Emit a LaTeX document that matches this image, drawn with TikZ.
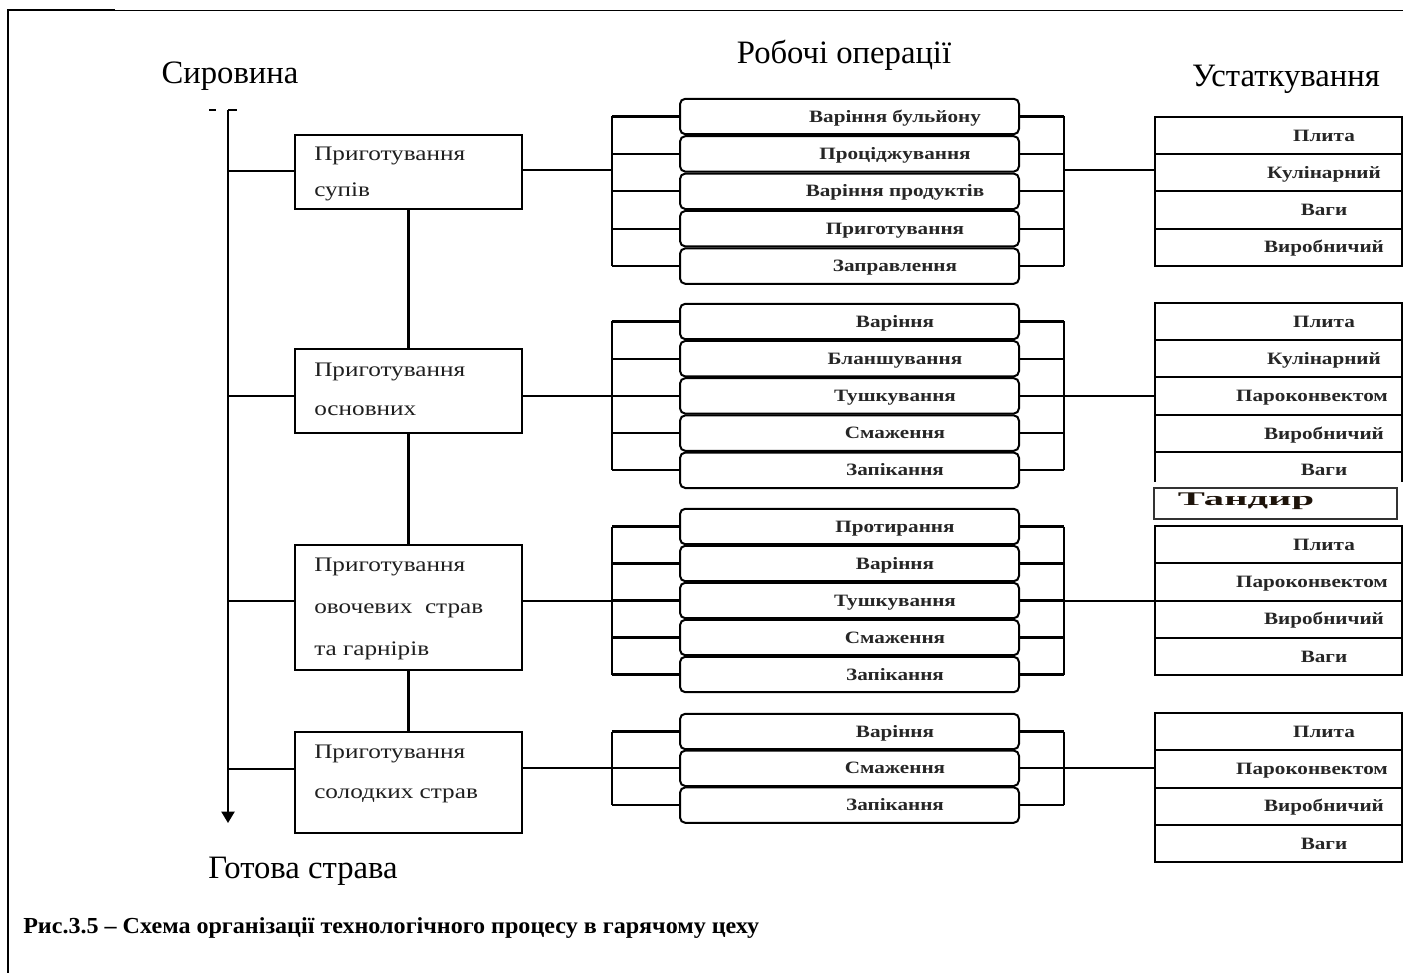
\documentclass[tikz,border=0pt]{standalone}
\usepackage{fontspec}
\setmainfont{Liberation Serif}
\newfontfamily\sfnt[FakeStretch=1.22]{Liberation Serif}
\newfontfamily\wfnt[FakeStretch=2.1]{Liberation Serif}
\newfontfamily\cfnt[FakeStretch=1.05]{Liberation Serif}
\usetikzlibrary{arrows.meta}
\begin{document}
\begin{tikzpicture}[x=0.75pt,y=-0.75pt,
  ln/.style={line width=1.6pt},
  mainbox/.style={draw, line width=1.6pt, minimum width=170.25pt, inner sep=0pt, outer sep=0pt},
  opbox/.style={draw, line width=1.5pt, rounded corners=4pt, minimum width=254.25pt, minimum height=26.6pt, inner sep=0pt, outer sep=0pt},
  eqbox/.style={draw, line width=1.5pt, minimum width=185.25pt, minimum height=27.9pt, inner sep=0pt, outer sep=0pt},
  optext/.style={font=\sfnt\bfseries\fontsize{13}{15}\selectfont, text=black!85, inner sep=0pt, text height=0.95em, text depth=0.1em},
  maintext/.style={font=\sfnt\fontsize{15.5}{18}\selectfont, text=black!88, anchor=west, inner sep=0pt, text height=0.95em, text depth=0.1em},
  head/.style={font=\fontsize{24.5}{28}\selectfont, inner sep=0pt, text height=0.7em, text depth=0.2em}
]
\useasboundingbox (0,0) rectangle (1403,973);
% frame
\draw[line width=1.3pt] (8,973) -- (8,10) -- (115,10);
\draw[line width=0.7pt] (115,10) -- (1403,10);

% headings
\node[head] (hraw) at (230,80) {Сировина};
\node[head] (hops) at (844,60) {Робочі операції};
\node[head] (heq) at (1286,83) {Устаткування};
\node[head] (hout) at (303,875) {Готова страва};
\node[font=\cfnt\bfseries\fontsize{17.2}{19}\selectfont, anchor=west, inner sep=0pt] (cap) at (23,928) {Рис.3.5 – Схема організації технологічного процесу в гарячому цеху};

% main axis
\coordinate (atop) at (228,110);
\coordinate (abot) at (228,823);
\draw[ln, -{Triangle[width=9.75pt,length=8.5pt]}] (atop) -- (abot);
\draw[line width=1.3pt] (228,110) -- (237,110);
\draw[line width=1.3pt] (209,110) -- (216,110);

% main boxes
\node[mainbox, minimum height=55.5pt] (b1) at (408.5,172) {};
\node[mainbox, minimum height=63pt] (b2) at (408.5,391) {};
\node[mainbox, minimum height=93.75pt] (b3) at (408.5,607.5) {};
\node[mainbox, minimum height=75.75pt] (b4) at (408.5,782.5) {};
\node[maintext] (t11) at (314,155) {Приготування};
\node[maintext] (t12) at (314,191) {супів};
\node[maintext] (t21) at (314,371) {Приготування};
\node[maintext] (t22) at (314,410) {основних};
\node[maintext] (t31) at (314,566) {Приготування};
\node[maintext] (t32) at (314,608) {овочевих\ \ страв};
\node[maintext] (t33) at (314,650) {та гарнірів};
\node[maintext] (t41) at (314,753) {Приготування};
\node[maintext] (t42) at (314,793) {солодких страв};
\draw[ln] (b1.south) -- (b2.north);
\draw[ln] (b2.south) -- (b3.north);
\draw[ln] (b3.south) -- (b4.north);

% junctions on the axis
\coordinate (j1) at (228,171);
\coordinate (j2) at (228,396);
\coordinate (j3) at (228,601);
\coordinate (j4) at (228,769);
\draw[ln] (j1) -- (j1 -| b1.west);
\draw[ln] (j2) -- (j2 -| b2.west);
\draw[ln] (j3) -- (j3 -| b3.west);
\draw[ln] (j4) -- (j4 -| b4.west);

% operation groups
\foreach \y/\t [count=\i] in {116.5/Варіння бульйону,153.9/Проціджування,191.3/Варіння продуктів,228.7/Приготування,266.1/Заправлення}{
  \node[opbox] (oa\i) at (849.5,\y) {};
  \node[optext] (pa\i) at (895,\y) {\t};
  \coordinate (la\i) at (612,\y);
  \coordinate (ra\i) at (1064,\y);
  \draw[ln] (la\i) -- (oa\i.west);
  \draw[ln] (oa\i.east) -- (ra\i);
}
\foreach \y/\t [count=\i] in {321.5/Варіння,358.7/Бланшування,395.9/Тушкування,433.1/Смаження,470.3/Запікання}{
  \node[opbox] (ob\i) at (849.5,\y) {};
  \node[optext] (pb\i) at (895,\y) {\t};
  \coordinate (lb\i) at (612,\y);
  \coordinate (rb\i) at (1064,\y);
  \draw[ln] (lb\i) -- (ob\i.west);
  \draw[ln] (ob\i.east) -- (rb\i);
}
\foreach \y/\t [count=\i] in {526.5/Протирання,563.5/Варіння,600.5/Тушкування,637.5/Смаження,674.5/Запікання}{
  \node[opbox] (oc\i) at (849.5,\y) {};
  \node[optext] (pc\i) at (895,\y) {\t};
  \coordinate (lc\i) at (612,\y);
  \coordinate (rc\i) at (1064,\y);
  \draw[ln] (lc\i) -- (oc\i.west);
  \draw[ln] (oc\i.east) -- (rc\i);
}
\foreach \y/\t [count=\i] in {731.5/Варіння,768.3/Смаження,805.1/Запікання}{
  \node[opbox] (od\i) at (849.5,\y) {};
  \node[optext] (pd\i) at (895,\y) {\t};
  \coordinate (ld\i) at (612,\y);
  \coordinate (rd\i) at (1064,\y);
  \draw[ln] (ld\i) -- (od\i.west);
  \draw[ln] (od\i.east) -- (rd\i);
}
\draw[ln] (la1) -- (la5); \draw[ln] (ra1) -- (ra5);
\draw[ln] (lb1) -- (lb5); \draw[ln] (rb1) -- (rb5);
\draw[ln] (lc1) -- (lc5); \draw[ln] (rc1) -- (rc5);
\draw[ln] (ld1) -- (ld3); \draw[ln] (rd1) -- (rd3);

% equipment groups
\foreach \y/\t [count=\i] in {135.6/Плита,172.8/Кулінарний,210/Ваги,247.2/Виробничий}{
  \node[eqbox] (ea\i) at (1278.5,\y) {};
  \node[optext] (qa\i) at (1324,\y) {\t};
}
\foreach \y/\t/\c [count=\i] in {321.6/Плита/1324,358.9/Кулінарний/1324,396.1/Пароконвектом/1312,433.4/Виробничий/1324}{
  \node[eqbox] (eb\i) at (1278.5,\y) {};
  \node[optext] (qb\i) at (\c,\y) {\t};
}
\node[minimum width=185.25pt, minimum height=22.5pt, inner sep=0pt, outer sep=0pt] (eb5) at (1278.5,467) {};
\draw[line width=1.5pt] (eb5.north west) -- (eb5.south west);
\draw[line width=1.5pt] (eb5.north east) -- (eb5.south east);
\node[optext] (qb5) at (1324,470) {Ваги};
\node[draw, line width=1.2pt, draw=black!80, minimum width=182.25pt, minimum height=23.25pt, inner sep=0pt, outer sep=0pt] (tan) at (1275.5,503.5) {};
\node[font=\wfnt\bfseries\fontsize{14.5}{17}\selectfont, text=black!85!brown, inner sep=0pt, text height=0.7em, text depth=0.2em] (tant) at (1246,502) {Тандир};
\foreach \y/\t/\c [count=\i] in {544.6/Плита/1324,581.9/Пароконвектом/1312,619.1/Виробничий/1324,656.4/Ваги/1324}{
  \node[eqbox] (ec\i) at (1278.5,\y) {};
  \node[optext] (qc\i) at (\c,\y) {\t};
}
\foreach \y/\t/\c [count=\i] in {731.6/Плита/1324,768.9/Пароконвектом/1312,806.1/Виробничий/1324,843.4/Ваги/1324}{
  \node[eqbox] (ed\i) at (1278.5,\y) {};
  \node[optext] (qd\i) at (\c,\y) {\t};
}

% flows main box -> operations -> equipment
\coordinate (ina) at (612,170);
\coordinate (inb) at (612,396);
\coordinate (inc) at (612,601);
\coordinate (ind) at (612,768);
\draw[ln] (ina -| b1.east) -- (ina);
\draw[ln] (inb -| b2.east) -- (inb);
\draw[ln] (inc -| b3.east) -- (inc);
\draw[ln] (ind -| b4.east) -- (ind);
\coordinate (outa) at (1064,170);
\coordinate (outb) at (1064,396);
\coordinate (outc) at (1064,601);
\coordinate (outd) at (1064,768);
\draw[ln] (outa) -- (outa -| ea1.west);
\draw[ln] (outb) -- (outb -| eb1.west);
\draw[ln] (outc) -- (outc -| ec1.west);
\draw[ln] (outd) -- (outd -| ed1.west);
\end{tikzpicture}
\end{document}
